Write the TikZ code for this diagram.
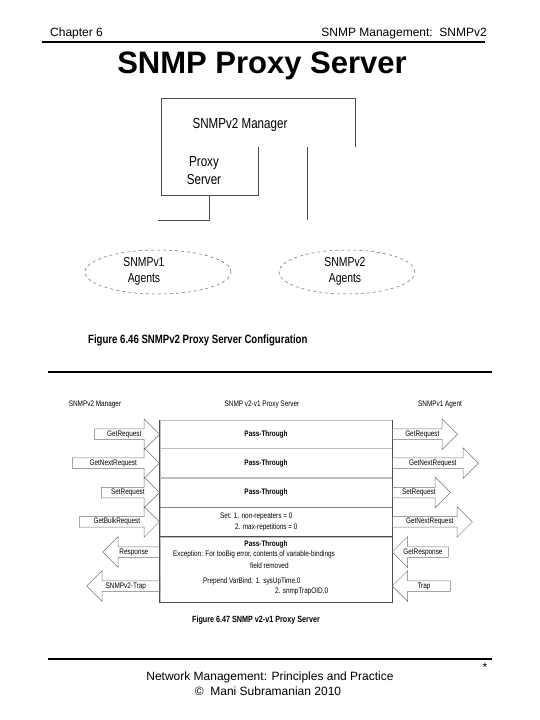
\documentclass[tikz,border=0pt]{standalone}
\usepackage{fontspec}
\setmainfont{Liberation Sans}
\newfontfamily\narrowsf[FakeStretch=0.8]{Liberation Sans}
\usetikzlibrary{positioning,shapes.geometric,shapes.arrows}

\begin{document}
\begin{tikzpicture}[
  x=1pt, y=-1pt,
  every node/.style = {inner sep=0pt},
  %% page furniture
  rule/.style    = {draw=black, line width=2.2pt},
  hdr/.style     = {font=\fontsize{12}{14}\selectfont},
  ttl/.style     = {font=\fontsize{31}{36}\selectfont\bfseries},
  %% figure 6.46
  mgrtext/.style = {font=\narrowsf\fontsize{14.5}{18}\selectfont, align=center},
  agt/.style     = {font=\narrowsf\fontsize{13}{16}\selectfont, align=center},
  mframe/.style  = {draw=black!70, line width=0.7pt},
  agentsel/.style= {ellipse, draw=black!60, dashed, line width=0.5pt},
  figcap/.style  = {font=\narrowsf\bfseries\fontsize{12}{14}\selectfont},
  %% figure 6.47
  sml/.style     = {font=\narrowsf\fontsize{8}{10}\selectfont},
  pass/.style    = {font=\narrowsf\bfseries\fontsize{8}{10}\selectfont},
  tblrow/.style  = {rectangle, draw=black!25, minimum width=232pt},
  barrow/.style  = {single arrow, draw=black!55, line width=0.5pt, sml,
                    single arrow head extend=10pt, minimum width=30pt,
                    text height=6pt, text depth=2pt,
                    inner xsep=2pt, inner ysep=1pt},
  toleft/.style  = {barrow, shape border rotate=180}
]
\useasboundingbox (0,0) rectangle (540,720);

%% ---- Header ----
\node[hdr, anchor=base west] (chap)  at (50,36.5)  {Chapter 6};
\node[hdr, anchor=base east] (topic) at (487,36.5) {SNMP Management:\ \ SNMPv2};
\draw[rule] (42,42) -- (485,42);
\node[ttl, anchor=base] (title) at (262,73) {SNMP Proxy Server};

%% ---- Figure 6.46 ----
\node[mgrtext, anchor=base] (mgr) at (240,128) {SNMPv2 Manager};
\node[mgrtext] (pxs) at (204,171) {Proxy\\Server};
\draw[mframe] (355,147) -- (355,98) -- (161,98) -- (161,195)
              -- (258,195) -- (258,147);

\coordinate (lnka) at (209,195);
\coordinate (lnkaend) at (158,220);
\coordinate (lnkb) at (307,147);
\coordinate (lnkbend) at (307,220);
\draw[mframe] (lnka) |- (lnkaend);
\draw[mframe] (lnkb) -- (lnkbend);

\node[agentsel, minimum width=146pt, minimum height=44pt] (v1ag) at (158,272) {};
\node[agentsel, minimum width=136pt, minimum height=44pt] (v2ag) at (347,272) {};
\node[agt] (v1txt) at (144,271) {SNMPv1\\Agents};
\node[agt] (v2txt) at (345,271) {SNMPv2\\Agents};

\node[figcap, anchor=base west] (cap46) at (88,343)
  {Figure 6.46 SNMPv2 Proxy Server Configuration};

\draw[rule] (48,372) -- (492,372);

%% ---- Figure 6.47 ----
\node[sml] (hmgr) at (95,405)  {SNMPv2 Manager};
\node[sml] (hpxy) at (262,405) {SNMP v2-v1 Proxy Server};
\node[sml] (hagt) at (440,405) {SNMPv1 Agent};

% table rows
\node[tblrow, minimum height=28pt, anchor=north] (r1) at (276,420) {};
\node[tblrow, minimum height=29pt, below=0pt of r1] (r2) {};
\node[tblrow, minimum height=29pt, below=0pt of r2] (r3) {};
\node[tblrow, minimum height=29pt, below=0pt of r3] (r4) {};
\node[tblrow, minimum height=65pt, below=0pt of r4] (r5) {};
\draw[draw=black!50] (r4.north west) -- (r4.north east);
\draw[mframe] (r5.north west) -- (r5.north east);
\draw[mframe] (r1.north west) -- (r5.south west) -- (r5.south east)
              -- (r1.north east);

\node[pass] (pt1) at ([xshift=-10pt]r1.center) {Pass-Through};
\node[pass] (pt2) at ([xshift=-10pt]r2.center) {Pass-Through};
\node[pass] (pt3) at ([xshift=-10pt]r3.center) {Pass-Through};
\node[sml, anchor=base west] (set1) at (220,518) {Set: 1. non-repeaters = 0};
\node[sml, anchor=base west] (set2) at (235,529) {2. max-repetitions = 0};
\node[pass, anchor=base] (pt5) at (266,546) {Pass-Through};
\node[sml, anchor=base west] (exc) at (173,556)
  {Exception: For tooBig error, contents of variable-bindings};
\node[sml, anchor=base west] (fld) at (250,568) {field removed};
\node[sml, anchor=base west] (prp1) at (203,583) {Prepend VarBind: 1. sysUpTime.0};
\node[sml, anchor=base west] (prp2) at (275,593) {2. snmpTrapOID.0};

% manager side
\node[barrow, minimum height=65pt, anchor=tip] (lget)  at (r1.west) {GetRequest};
\node[barrow, minimum height=87pt, anchor=tip] (lnext) at (r2.west) {GetNextRequest};
\node[barrow, minimum height=58pt, anchor=tip] (lset)  at (r3.west) {SetRequest};
\node[barrow, minimum height=80pt, anchor=tip] (lbulk) at (r4.west) {GetBulkRequest};
\node[toleft, minimum height=57pt, anchor=tail] (lresp) at (160,552) {Response};
\node[toleft, minimum height=73pt, anchor=tail] (ltrap) at (160,586) {SNMPv2-Trap};

% agent side
\node[barrow, minimum height=65pt, anchor=tail] (rget)  at (r1.east) {GetRequest};
\node[barrow, minimum height=86pt, anchor=tail] (rnext) at (r2.east) {GetNextRequest};
\node[barrow, minimum height=58pt, anchor=tail] (rset)  at (r3.east) {SetRequest};
\node[barrow, minimum height=80pt, anchor=tail] (rbulk) at (r4.east) {GetNextRequest};
\node[toleft, minimum height=56pt, anchor=tip] (rresp) at (392,552) {GetResponse};
\node[toleft, minimum height=58pt, anchor=tip] (rtrap) at (392,586) {Trap};

\node[pass, font=\narrowsf\bfseries\fontsize{9}{11}\selectfont, anchor=base]
  (cap47) at (256,622) {Figure 6.47 SNMP v2-v1 Proxy Server};

%% ---- Footer ----
\draw[rule] (48,659) -- (492,659);
\node[hdr] (star) at (485,667) {*};
\node[hdr, anchor=base] (ftr1) at (270,680) {Network Management: Principles and Practice};
\node[hdr, anchor=base] (ftr2) at (268,695) {\textcopyright\ \ Mani Subramanian 2010};

\end{tikzpicture}
\end{document}
